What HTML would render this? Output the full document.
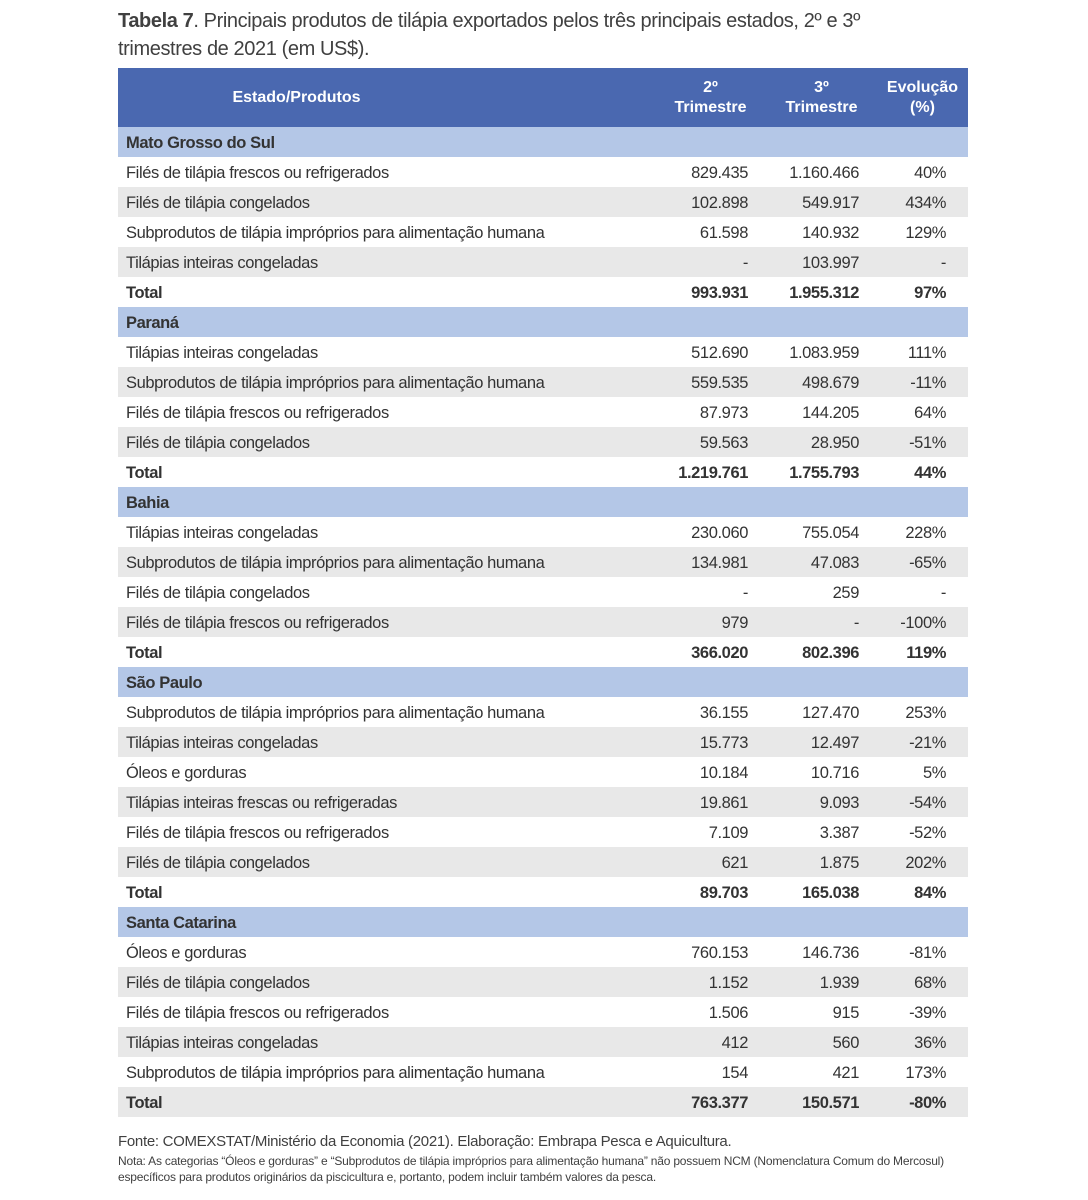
<!DOCTYPE html>
<html><head><meta charset="utf-8">
<style>
body{margin:0;width:1088px;height:1200px;background:#fff;font-family:"Liberation Sans",sans-serif;color:#333;position:relative;overflow:hidden}
#title{position:absolute;left:118px;top:7px;width:900px;font-size:20px;line-height:28px;color:#404040;letter-spacing:-0.4px;white-space:nowrap}
#tbl{position:absolute;left:118px;top:68px;width:850px;border-collapse:collapse;table-layout:fixed}
#tbl td{padding:2px 0 0 0;height:28px;line-height:28px;font-size:16.5px;letter-spacing:-0.4px;white-space:nowrap;overflow:hidden}
#tbl th{padding:0;background:#4a68b0;color:#fff;font-weight:bold;height:59px;font-size:16px;line-height:20px}
#tbl th.h1{padding-right:180px}
.c1{padding-left:8px!important;text-align:left}
.n2{text-align:right;padding-right:18px!important}
.n3{text-align:right;padding-right:18px!important}
.n4{text-align:right;padding-right:22px!important}
tr.sec td{background:#b4c7e7;font-weight:bold}
tr.g td{background:#e8e8e8}
tr.tot td{font-weight:bold}
#src{position:absolute;left:118px;top:1133px;font-size:15px;color:#404040;letter-spacing:-0.3px;white-space:nowrap}
#note{position:absolute;left:118px;top:1153px;font-size:12px;line-height:16px;color:#404040;width:900px;letter-spacing:-0.2px;white-space:nowrap}
</style></head><body>
<div id="title"><b>Tabela 7</b>. Principais produtos de tilápia exportados pelos três principais estados, 2º e 3º<br>trimestres de 2021 (em US$).</div>
<table id="tbl">
<colgroup><col style="width:537px"><col style="width:111px"><col style="width:111px"><col style="width:91px"></colgroup>
<thead><tr><th class="h1">Estado/Produtos</th><th>2º<br>Trimestre</th><th>3º<br>Trimestre</th><th>Evolução<br>(%)</th></tr></thead>
<tbody id="tb"></tbody></table>
<div id="src">Fonte: COMEXSTAT/Ministério da Economia (2021). Elaboração: Embrapa Pesca e Aquicultura.</div>
<div id="note">Nota: As categorias “Óleos e gorduras” e “Subprodutos de tilápia impróprios para alimentação humana” não possuem NCM (Nomenclatura Comum do Mercosul)<br>específicos para produtos originários da piscicultura e, portanto, podem incluir também valores da pesca.</div>
<script>
const sections=["Mato Grosso do Sul","Paraná","Bahia","São Paulo","Santa Catarina"];
const products=[
["Filés de tilápia frescos ou refrigerados","Filés de tilápia congelados","Subprodutos de tilápia impróprios para alimentação humana","Tilápias inteiras congeladas"],
["Tilápias inteiras congeladas","Subprodutos de tilápia impróprios para alimentação humana","Filés de tilápia frescos ou refrigerados","Filés de tilápia congelados"],
["Tilápias inteiras congeladas","Subprodutos de tilápia impróprios para alimentação humana","Filés de tilápia congelados","Filés de tilápia frescos ou refrigerados"],
["Subprodutos de tilápia impróprios para alimentação humana","Tilápias inteiras congeladas","Óleos e gorduras","Tilápias inteiras frescas ou refrigeradas","Filés de tilápia frescos ou refrigerados","Filés de tilápia congelados"],
["Óleos e gorduras","Filés de tilápia congelados","Filés de tilápia frescos ou refrigerados","Tilápias inteiras congeladas","Subprodutos de tilápia impróprios para alimentação humana"]];
const q2=[["829.435","102.898","61.598","-"],["512.690","559.535","87.973","59.563"],["230.060","134.981","-","979"],["36.155","15.773","10.184","19.861","7.109","621"],["760.153","1.152","1.506","412","154"]];
const q3=[["1.160.466","549.917","140.932","103.997"],["1.083.959","498.679","144.205","28.950"],["755.054","47.083","259","-"],["127.470","12.497","10.716","9.093","3.387","1.875"],["146.736","1.939","915","560","421"]];
const evo=[["40%","434%","129%","-"],["111%","-11%","64%","-51%"],["228%","-65%","-","-100%"],["253%","-21%","5%","-54%","-52%","202%"],["-81%","68%","-39%","36%","173%"]];
const totQ2=["993.931","1.219.761","366.020","89.703","763.377"];
const totQ3=["1.955.312","1.755.793","802.396","165.038","150.571"];
const totEvo=["97%","44%","119%","84%","-80%"];
const tb=document.getElementById('tb');
function row(cls,a,b,c,d){
  const tr=document.createElement('tr');
  tr.className=cls;
  
  
  [[a,'c1'],[b,'n2'],[c,'n3'],[d,'n4']].forEach(([t,k])=>{
    const td=document.createElement('td');td.className=k;td.textContent=t;
    
    
    tr.appendChild(td);});
  tb.appendChild(tr);
}
sections.forEach((s,i)=>{
  row('sec',s,'','','');
  products[i].forEach((p,j)=>row(j%2?'g':'',p,q2[i][j],q3[i][j],evo[i][j]));
  row('tot'+(products[i].length%2?' g':''),'Total',totQ2[i],totQ3[i],totEvo[i]);
});
</script>
</body></html>
